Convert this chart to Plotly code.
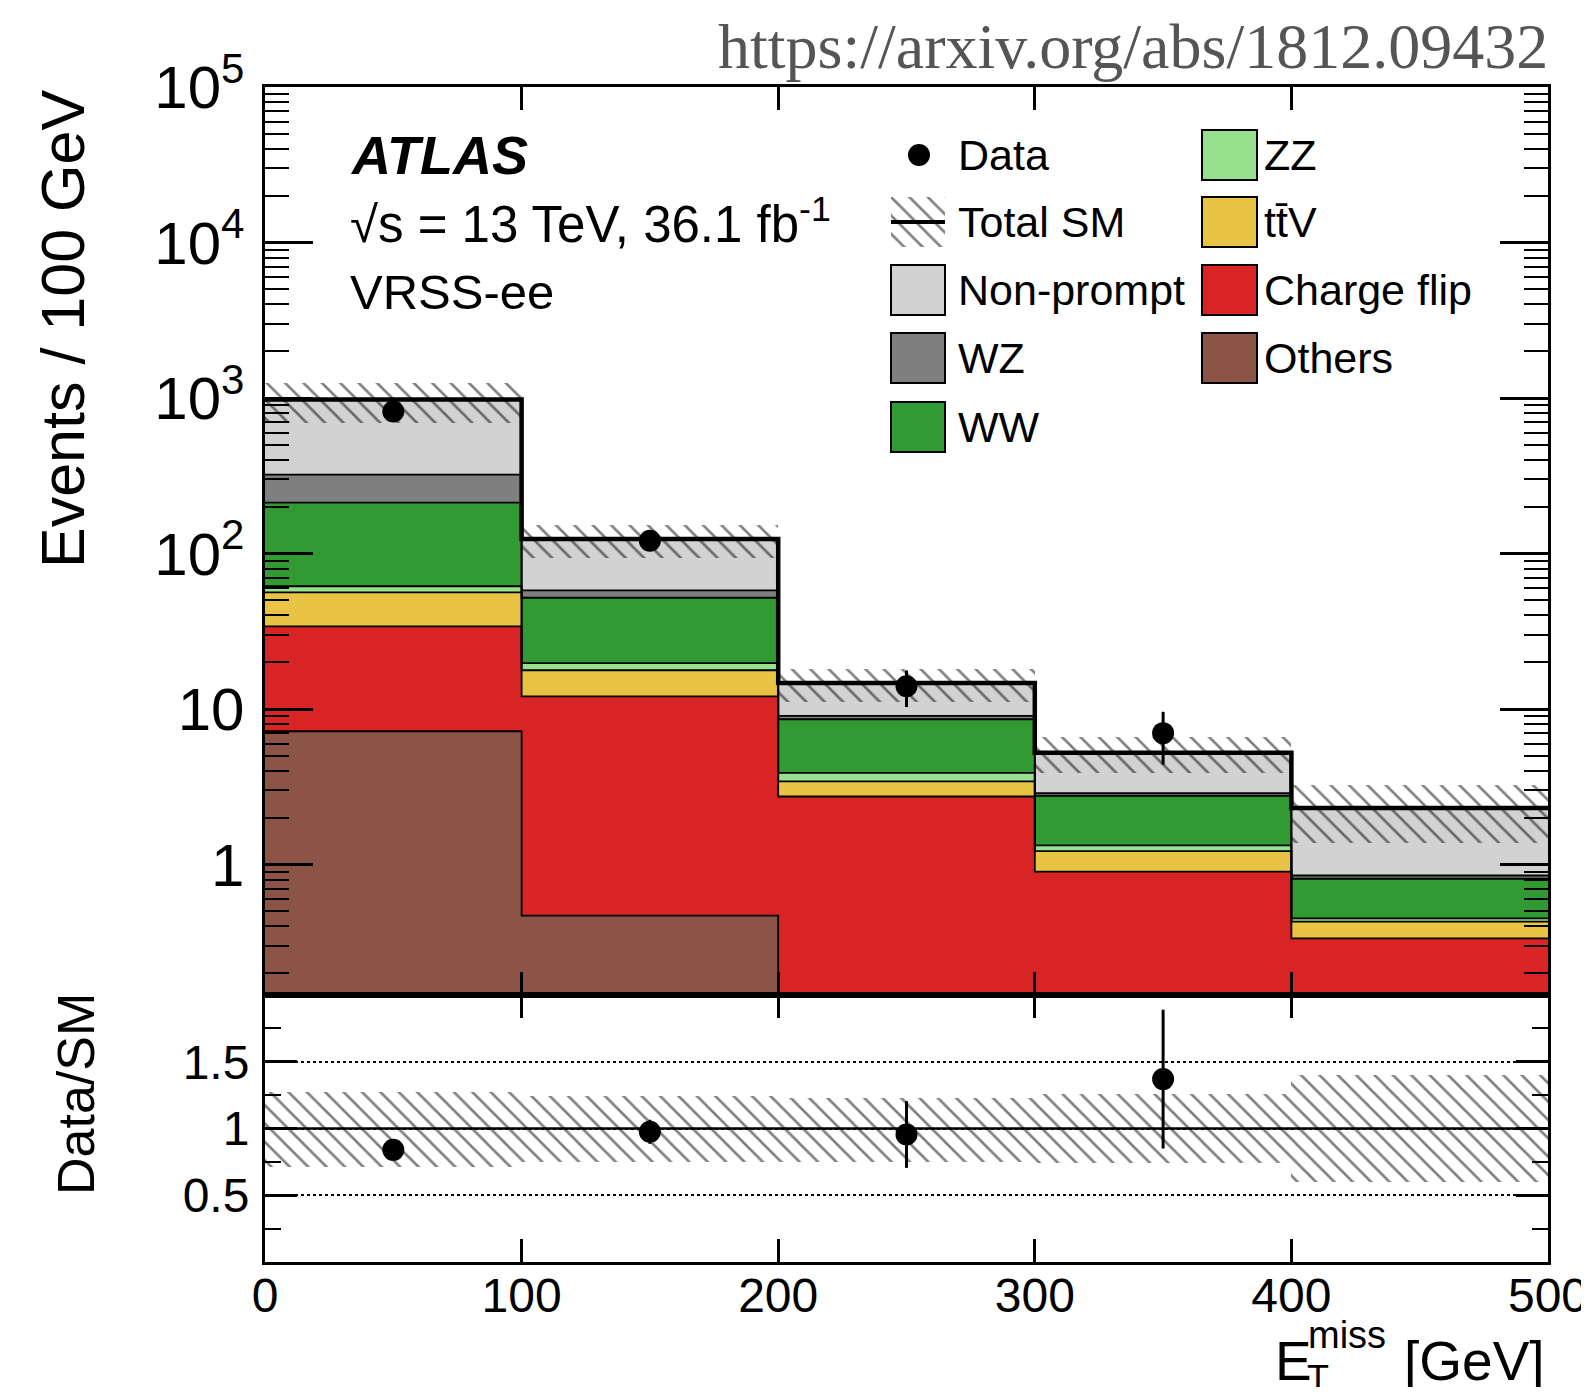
import numpy as np
import plotly.graph_objects as go

# ---------------- data ----------------
bin_edges = [0, 100, 200, 300, 400, 500]
bin_centers = [50, 150, 250, 350, 450]

# stacked backgrounds, bottom -> top
others     = [7.2, 0.47, 0.0, 0.0, 0.0]
chargeflip = [26.8, 11.6, 2.74, 0.90, 0.335]
ttv        = [22.3, 5.7, 0.69, 0.32, 0.095]
zz         = [5.3, 2.0, 0.46, 0.11, 0.021]
ww         = [151.0, 32.2, 4.71, 1.44, 0.36]
wz         = [109.0, 6.0, 0.45, 0.11, 0.04]
nonprompt  = [658.0, 66.0, 5.65, 2.36, 1.46]

# data
data_x = [50, 150, 250, 350]
data_y = [820, 121, 14, 7]
data_err = [29, 11, 3.7, 2.6]

# total SM relative uncertainty
unc_up = [0.27, 0.24, 0.225, 0.26, 0.40]
unc_down = [0.29, 0.25, 0.25, 0.26, 0.40]

# ratio panel
ratio_y = [0.84, 0.975, 0.955, 1.37]
ratio_err = [0.03, 0.09, 0.25, 0.52]

y_ticks_ratio = [0.5, 1, 1.5]
y_ticktext_ratio = ["0.5", "1", "1.5"]
x_ticks = [0, 100, 200, 300, 400, 500]

# ---------------- styling ----------------
names = ["Others", "Charge flip", "tt\u0304V", "ZZ", "WW", "WZ", "Non-prompt"]
colors = ["#8b5446", "#d92426", "#e9c444", "#97e08d", "#329a32", "#7f7f7f", "#d2d2d2"]
comps = [others, chargeflip, ttv, zz, ww, wz, nonprompt]

FONT = "Liberation Sans, Arial, sans-serif"
FLOOR = 1e-3  # drawing floor for log axis

# page geometry (page pixels); body margin of 8px is compensated
OFF = 8
PW, PH = 1589, 1395
W, H = PW - 2 * OFF, PH - 2 * OFF
L, R, T, B = 265, 1548, 87, 1262
split_px = 995
lower_frac = (B - split_px) / (B - T)


def fx(x):
    return (x - L) / (R - L)


def fy(y):
    return (B - y) / (B - T)


fig = go.Figure()

# ---------------- stacked fills ----------------
cum = np.zeros(len(bin_centers))
cums = []
for name, col, vals in zip(names, colors, comps):
    v = np.array(vals, dtype=float)
    base = np.maximum(cum, FLOOR)
    top = cum + v
    fig.add_trace(go.Bar(
        x=bin_centers, y=np.maximum(top, FLOOR) - base, base=base, width=100,
        marker=dict(color=col, line=dict(width=0)), showlegend=False,
        xaxis="x", yaxis="y", hoverinfo="skip"))
    cum = top
    cums.append(top.copy())
total = cum

# uncertainty hatch (upper)
up = np.array(unc_up)
dn = np.array(unc_down)
hatch = dict(shape="\\", fgcolor="black", bgcolor="rgba(0,0,0,0)",
             size=13, solidity=0.2, fillmode="overlay")
fig.add_trace(go.Bar(
    x=bin_centers, y=total * (up + dn), base=total * (1 - dn), width=100,
    marker=dict(color="rgba(0,0,0,0)", line=dict(width=0), pattern=hatch),
    showlegend=False, xaxis="x", yaxis="y", hoverinfo="skip"))

# outlines of each stacked layer
for i, c in enumerate(cums):
    yy = list(np.maximum(c, FLOOR)) + [max(c[-1], FLOOR)]
    is_total = (i == len(cums) - 1)
    fig.add_trace(go.Scatter(
        x=bin_edges, y=yy, mode="lines", line_shape="hv",
        line=dict(color="black", width=4.5 if is_total else 1.8),
        showlegend=False, xaxis="x", yaxis="y", hoverinfo="skip"))

# data
fig.add_trace(go.Scatter(
    x=data_x, y=data_y, mode="markers",
    marker=dict(color="black", size=22),
    error_y=dict(type="data", array=data_err, color="black", thickness=3, width=0),
    showlegend=False, xaxis="x", yaxis="y"))

# ---------------- ratio panel ----------------
fig.add_trace(go.Bar(
    x=bin_centers, y=up + dn, base=1 - dn, width=100,
    marker=dict(color="rgba(0,0,0,0)", line=dict(width=0), pattern=hatch),
    showlegend=False, xaxis="x2", yaxis="y2", hoverinfo="skip"))
fig.add_trace(go.Scatter(
    x=data_x, y=ratio_y, mode="markers",
    marker=dict(color="black", size=22),
    error_y=dict(type="data", array=ratio_err, color="black", thickness=3, width=0),
    showlegend=False, xaxis="x2", yaxis="y2"))

# legend key for Total SM hatch (hidden axes)
kx0, kx1, ky0, ky1 = 891, 945, 197, 247
fig.add_trace(go.Bar(
    x=[0.5], y=[1], base=[0], width=[1],
    marker=dict(color="rgba(0,0,0,0)", line=dict(width=0), pattern=hatch),
    showlegend=False, xaxis="x3", yaxis="y3", hoverinfo="skip"))

axis_common = dict(showline=True, linewidth=3, linecolor="black", mirror="allticks",
                   ticks="inside", tickcolor="black", showgrid=False, zeroline=False,
                   automargin=False)

fig.update_layout(
    width=W, height=H, template="none",
    margin=dict(l=L - OFF, r=W - (R - OFF), t=T - OFF, b=H - (B - OFF), pad=0),
    paper_bgcolor="white", plot_bgcolor="rgba(0,0,0,0)",
    barmode="overlay", bargap=0,
    font=dict(family=FONT, color="black"),
    xaxis=dict(domain=[0, 1], range=[0, 500], anchor="y", tickvals=x_ticks,
               showticklabels=False, ticklen=23, tickwidth=2.5, **axis_common),
    xaxis2=dict(domain=[0, 1], range=[0, 500], anchor="y2", tickvals=x_ticks,
                ticklen=23, tickwidth=2.5, tickfont=dict(size=48, family=FONT),
                ticklabelstandoff=-11, ticklabeloverflow="allow", matches="x",
                **axis_common),
    yaxis=dict(domain=[lower_frac, 1], type="log", range=[np.log10(0.145), 5], anchor="x",
               dtick=1, exponentformat="power", ticklen=48, tickwidth=2.5,
               tickfont=dict(size=48, family=FONT), ticklabelstandoff=8,
               minor=dict(dtick="D1", ticks="inside", ticklen=24, tickwidth=2,
                          tickcolor="black", showgrid=False),
               **axis_common),
    yaxis2=dict(domain=[0, lower_frac], range=[0, 2], anchor="x2",
                tickvals=y_ticks_ratio, ticktext=y_ticktext_ratio,
                ticklen=32, tickwidth=2.5, tickfont=dict(size=48, family=FONT),
                ticklabelstandoff=3,
                minor=dict(dtick=0.25, ticks="inside", ticklen=16, tickwidth=2,
                           tickcolor="black", showgrid=False),
                showline=True, linewidth=3, linecolor="black", mirror="allticks",
                ticks="inside", tickcolor="black", zeroline=False, automargin=False,
                showgrid=True, griddash="dot", gridcolor="black", gridwidth=1.5),
    xaxis3=dict(domain=[fx(kx0), fx(kx1)], range=[0, 1], anchor="y3", visible=False,
                fixedrange=True),
    yaxis3=dict(domain=[fy(ky1), fy(ky0)], range=[0, 1], anchor="x3", visible=False,
                fixedrange=True),
)

shapes = []
# line at ratio = 1
shapes.append(dict(type="line", xref="x2 domain", yref="y2", x0=0, x1=1, y0=1, y1=1,
                   line=dict(color="black", width=2.5), layer="above"))

# ---------------- manual legend ----------------
row_y = [155, 222, 290, 358, 427]
c1_box = (891, 945)
c2_box = (1202, 1257)
c1_txt = 956
c2_txt = 1262
bh = 25

legend_col1 = [("Non-prompt", 6, 2), ("WZ", 5, 3), ("WW", 4, 4)]
legend_col2 = [("ZZ", 3, 0), ("tt\u0304V", 2, 1), ("Charge flip", 1, 2), ("Others", 0, 3)]

for label, ci, r in legend_col1:
    shapes.append(dict(type="rect", xref="paper", yref="paper",
                       x0=fx(c1_box[0]), x1=fx(c1_box[1]),
                       y0=fy(row_y[r] + bh), y1=fy(row_y[r] - bh),
                       fillcolor=colors[ci], line=dict(color="black", width=2)))
for label, ci, r in legend_col2:
    shapes.append(dict(type="rect", xref="paper", yref="paper",
                       x0=fx(c2_box[0]), x1=fx(c2_box[1]),
                       y0=fy(row_y[r] + bh), y1=fy(row_y[r] - bh),
                       fillcolor=colors[ci], line=dict(color="black", width=2)))

# data marker key
rad = 11
shapes.append(dict(type="circle", xref="paper", yref="paper",
                   x0=fx(919 - rad), x1=fx(919 + rad), y0=fy(155 + rad), y1=fy(155 - rad),
                   fillcolor="black", line=dict(color="black", width=0)))
# total SM key line
shapes.append(dict(type="line", xref="paper", yref="paper",
                   x0=fx(kx0), x1=fx(kx1), y0=fy(222), y1=fy(222),
                   line=dict(color="black", width=4)))

annotations = []


def txt(text, x, y, size, xanchor="left", yanchor="middle", angle=0, family=FONT,
        color="black"):
    annotations.append(dict(text=text, x=fx(x), y=fy(y), xref="paper", yref="paper",
                            xanchor=xanchor, yanchor=yanchor, showarrow=False,
                            textangle=angle, font=dict(size=size, family=family, color=color)))


legend_texts_col1 = ["Data", "Total SM", "Non-prompt", "WZ", "WW"]
legend_texts_col2 = ["ZZ", "tt\u0304V", "Charge flip", "Others"]
for i, t in enumerate(legend_texts_col1):
    txt(t, c1_txt, row_y[i], 43)
for i, t in enumerate(legend_texts_col2):
    txt(t, c2_txt, row_y[i], 43)

txt("<b><i>ATLAS</i></b>", 348, 155, 54)
txt("\u221As = 13 TeV, 36.1 fb<sup>-1</sup>", 348, 221, 51)
txt("VRSS-ee", 348, 292, 49)

txt("Events / 100 GeV", 63, 329, 61, xanchor="center", angle=-90)
txt("Data/SM", 76, 1094, 52, xanchor="center", angle=-90)

txt("E", 1273, 1361, 55)
txt("T", 1305, 1378, 36)
txt("miss", 1306, 1335, 38)
txt("[GeV]", 1402, 1361, 55)

txt("https://arxiv.org/abs/1812.09432", 1550, 46, 64, xanchor="right",
    family="Liberation Serif, DejaVu Serif, serif", color="#555555")

fig.update_layout(shapes=shapes, annotations=annotations)

fig.write_html("out.html")
